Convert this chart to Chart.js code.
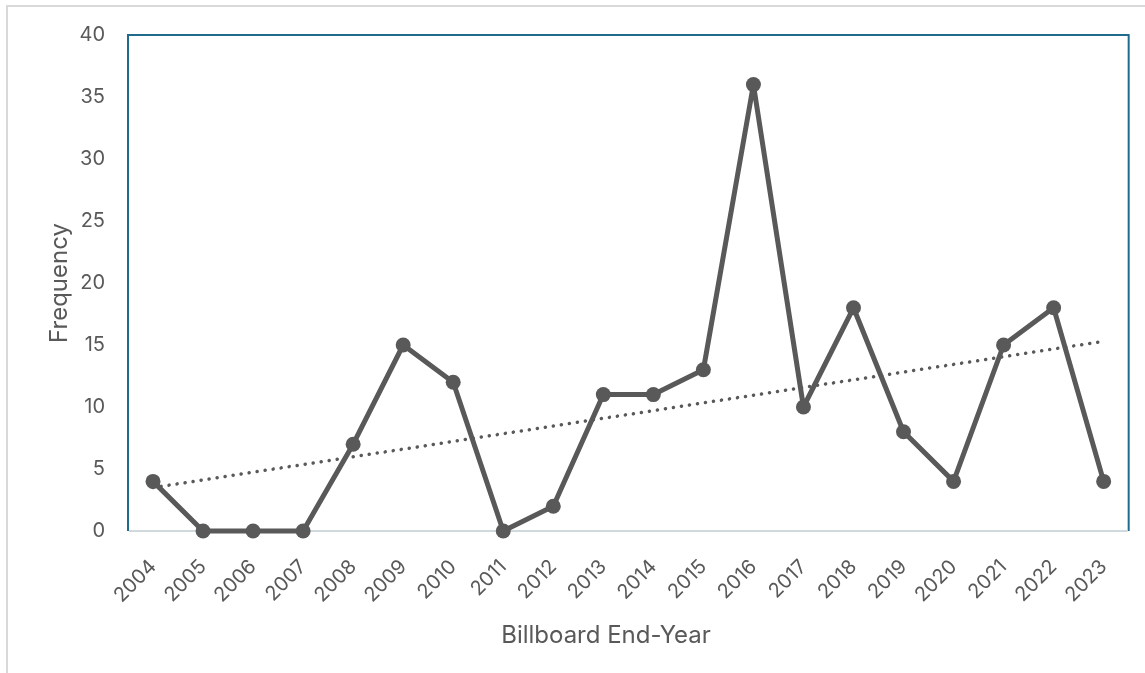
<!DOCTYPE html>
<html>
<head>
<meta charset="utf-8">
<title>Billboard End-Year Frequency</title>
<script src="https://cdn.jsdelivr.net/npm/chart.js@4/dist/chart.umd.min.js"></script>
<style>
  html, body { margin: 0; padding: 0; background: #ffffff; }
  #wrap { position: relative; width: 1145px; height: 673px; }
</style>
</head>
<body>
<div id="wrap"><canvas id="freqChart"></canvas></div>
<script>
// Data
const years = ['2004', '2005', '2006', '2007', '2008', '2009', '2010', '2011', '2012', '2013',
  '2014', '2015', '2016', '2017', '2018', '2019', '2020', '2021', '2022', '2023'];
const frequency = [4, 0, 0, 0, 7, 15, 12, 0, 2, 11, 11, 13, 36, 10, 18, 8, 4, 15, 18, 4];
// linear trendline, start and end values
const trendStart = 3.5;
const trendEnd = 15.3;
const yTicks = [0, 5, 10, 15, 20, 25, 30, 35, 40];
const xTitle = 'Billboard End-Year';

const trend = years.map((y, i) => {
  if (i === 0) return trendStart;
  if (i === years.length - 1) return trendEnd;
  return null;
});

const textColor = '#595959';
const lineColor = '#595959';
const fontFamily = 'Inter, "Open Sans", sans-serif';

// Frame around the plot area, outer sheet edges and the x axis title
const framePlugin = {
  id: 'frame',
  beforeDraw(chart) {
    const ctx = chart.ctx;
    ctx.save();
    ctx.strokeStyle = '#d9d9d9';
    ctx.lineWidth = 2;
    ctx.beginPath();
    ctx.moveTo(7, chart.height);
    ctx.lineTo(7, 6);
    ctx.lineTo(chart.width, 6);
    ctx.stroke();

    // x axis title sits a bit left of the plot centre
    ctx.fillStyle = textColor;
    ctx.font = '24px ' + fontFamily;
    ctx.textAlign = 'center';
    ctx.textBaseline = 'alphabetic';
    ctx.fillText(xTitle, 606, 643);
    ctx.restore();
  },
  beforeDatasetsDraw(chart) {
    const { ctx, chartArea: a } = chart;
    ctx.save();
    ctx.lineWidth = 2;
    ctx.strokeStyle = '#1f6b8c';
    ctx.beginPath();
    ctx.moveTo(a.left, a.bottom);
    ctx.lineTo(a.left, a.top);
    ctx.lineTo(a.right, a.top);
    ctx.lineTo(a.right, a.bottom);
    ctx.stroke();
    ctx.strokeStyle = '#d0d9de';
    ctx.beginPath();
    ctx.moveTo(a.left + 1, a.bottom);
    ctx.lineTo(a.right - 1, a.bottom);
    ctx.stroke();
    ctx.restore();
  }
};

function initChart() {
  const ctx = document.getElementById('freqChart').getContext('2d');

  new Chart(ctx, {
    type: 'line',
    data: {
      labels: years,
      datasets: [
        {
          label: 'Frequency',
          data: frequency,
          borderColor: lineColor,
          backgroundColor: lineColor,
          borderWidth: 5,
          borderJoinStyle: 'round',
          pointRadius: 7.5,
          pointBorderWidth: 0,
          pointBackgroundColor: lineColor,
          tension: 0,
          clip: false,
          order: 1
        },
        {
          label: 'Linear (Frequency)',
          data: trend,
          spanGaps: true,
          borderColor: lineColor,
          borderWidth: 3.5,
          borderDash: [0.1, 8],
          borderCapStyle: 'round',
          pointRadius: 0,
          fill: false,
          order: 2
        }
      ]
    },
    options: {
      responsive: true,
      maintainAspectRatio: false,
      animation: false,
      layout: {
        padding: { left: 8, top: 35, right: 15, bottom: 12 }
      },
      plugins: {
        legend: { display: false },
        tooltip: { enabled: false }
      },
      scales: {
        x: {
          offset: true,
          grid: { display: false, drawTicks: false },
          border: { display: false },
          ticks: {
            color: textColor,
            font: { family: fontFamily, size: 20 },
            minRotation: 45,
            maxRotation: 45,
            autoSkip: false,
            padding: 24
          },
          title: { display: false },
          afterFit(scale) { scale.height = 130; }
        },
        y: {
          min: 0,
          max: 40,
          afterBuildTicks(scale) {
            scale.ticks = yTicks.map(v => ({ value: v }));
          },
          grid: { display: false, drawTicks: false },
          border: { display: false },
          ticks: {
            color: textColor,
            font: { family: fontFamily, size: 20 },
            padding: 23
          },
          title: {
            display: true,
            text: 'Frequency',
            color: textColor,
            font: { family: fontFamily, size: 24 },
            padding: { top: 37, bottom: 0 }
          },
          afterFit(scale) { scale.width = 120; }
        }
      }
    },
    plugins: [framePlugin]
  });
}

document.addEventListener('DOMContentLoaded', initChart);
</script>
</body>
</html>
